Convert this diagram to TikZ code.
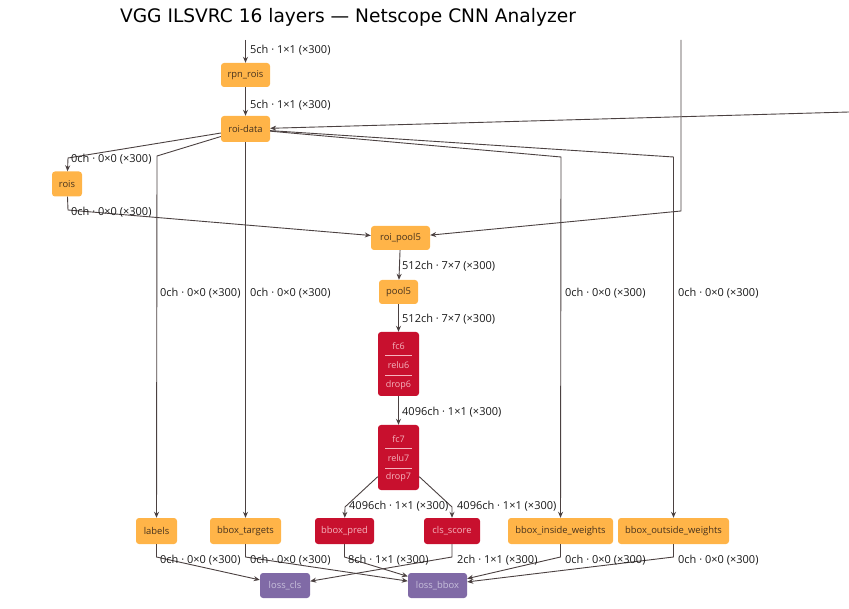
\documentclass[tikz,border=0pt]{standalone}
\usepackage{fontspec}
\setmainfont{Open Sans}
\newfontfamily\titlefont{DejaVu Sans}
\usetikzlibrary{arrows.meta}
\definecolor{orbox}{RGB}{255,180,72}
\definecolor{ortext}{RGB}{70,50,30}
\definecolor{rdbox}{RGB}{200,16,46}
\definecolor{rdtext}{RGB}{245,180,190}
\definecolor{pubox}{RGB}{128,106,166}
\definecolor{putext}{RGB}{200,192,220}
\definecolor{edgecol}{RGB}{75,65,65}
\tikzset{
  base/.style={rounded corners=3pt, inner sep=0pt, font=\fontsize{9.4}{11}\selectfont},
  obox/.style={base, fill=orbox, text=ortext},
  rbox/.style={base, fill=rdbox, text=rdtext},
  pbox/.style={base, fill=pubox, text=putext},
  intext/.style={inner sep=0pt, text=rdtext, font=\fontsize{9}{10}\selectfont},
  sep/.style={draw=rdtext, line width=0.6pt},
  arr/.style={draw=edgecol, line width=0.9pt, -{Stealth[length=6pt,width=5pt]}},
  lab/.style={anchor=west, inner sep=0pt, text=black!90, font=\fontsize{11}{12}\selectfont},
}
\begin{document}
\begin{tikzpicture}[x=1pt,y=-1pt]
\useasboundingbox (0,0) rectangle (849,609);
\node[anchor=center, inner sep=0pt, font=\titlefont\fontsize{18.6}{21}\selectfont] (title) at (348,17) {VGG ILSVRC 16 layers — Netscope CNN Analyzer};

% nodes
\node[obox, minimum width=49, minimum height=24] (rpnrois) at (245.5,75) {rpn\_rois};
\node[obox, minimum width=49, minimum height=26] (roidata) at (245.5,129) {roi-data};
\node[obox, minimum width=30, minimum height=25] (rois) at (67,184) {rois};
\node[obox, minimum width=59, minimum height=24] (roipool5) at (400.5,238) {roi\_pool5};
\node[obox, minimum width=39, minimum height=24] (pool5) at (398.5,292) {pool5};
\node[rbox, minimum width=41, minimum height=64] (fc6) at (398.5,364) {};
\node[intext] (fc6a) at (398.5,346) {fc6};
\node[intext] (fc6b) at (398.5,365) {relu6};
\node[intext] (fc6c) at (398.5,385) {drop6};
\draw[sep] (385,355.5) -- (412,355.5);
\draw[sep] (385,375) -- (412,375);
\node[rbox, minimum width=41, minimum height=65] (fc7) at (398.5,457.5) {};
\node[intext] (fc7a) at (398.5,439) {fc7};
\node[intext] (fc7b) at (398.5,458) {relu7};
\node[intext] (fc7c) at (398.5,477.5) {drop7};
\draw[sep] (385,448.5) -- (412,448.5);
\draw[sep] (385,468) -- (412,468);
\node[obox, minimum width=41, minimum height=26] (labels) at (156.5,531) {labels};
\node[obox, minimum width=71, minimum height=26] (bboxtargets) at (245.5,531) {bbox\_targets};
\node[rbox, minimum width=59, minimum height=26] (bboxpred) at (344.5,531) {bbox\_pred};
\node[rbox, minimum width=56, minimum height=26] (clsscore) at (452,531) {cls\_score};
\node[obox, minimum width=105, minimum height=26] (biw) at (560.5,531) {bbox\_inside\_weights};
\node[obox, minimum width=111, minimum height=26] (bow) at (673.5,531) {bbox\_outside\_weights};
\node[pbox, minimum width=50, minimum height=25] (losscls) at (285,585.5) {loss\_cls};
\node[pbox, minimum width=59, minimum height=25] (lossbbox) at (437.5,585.5) {loss\_bbox};

% free ends and bends
\coordinate (topin) at (245.5,40);
\coordinate (rin) at (849,112);
\coordinate (vin) at (681,40);
\coordinate (vb) at (681,211);
\coordinate (b1) at (68,158);
\coordinate (b2) at (68,210);
\coordinate (b3) at (157,156);
\coordinate (b4) at (561,157);
\coordinate (b5) at (673.5,157);
\coordinate (b6) at (345,507);
\coordinate (b7) at (452,507);
\coordinate (c1) at (156.5,557);
\coordinate (c2) at (245.5,557);
\coordinate (c3) at (344.5,557);
\coordinate (c4) at (452,557);
\coordinate (c5) at (560.5,557);
\coordinate (c6) at (673.5,557);

% edges
\draw[arr] (topin) -- (rpnrois);
\draw[arr] (rpnrois) -- (roidata);
\draw[arr] (rin) -- (roidata);
\draw[arr] (vin) -- (vb) -- (roipool5);
\draw[arr] (roidata) -- (b1) -- (rois);
\draw[arr] (rois) -- (b2) -- (roipool5);
\draw[arr] (roidata) -- (b3) -- (labels);
\draw[arr] (roidata) -- (bboxtargets);
\draw[arr] (roidata) -- (b4) -- (biw);
\draw[arr] (roidata) -- (b5) -- (bow);
\draw[arr] (roipool5) -- (pool5);
\draw[arr] (pool5) -- (fc6);
\draw[arr] (fc6) -- (fc7);
\draw[arr] (fc7) -- (b6) -- (bboxpred);
\draw[arr] (fc7) -- (b7) -- (clsscore);
\draw[arr] (labels) -- (c1) -- (losscls);
\draw[arr] (bboxtargets) -- (c2) -- (lossbbox);
\draw[arr] (bboxpred) -- (c3) -- (lossbbox);
\draw[arr] (clsscore) -- (c4) -- (losscls);
\draw[arr] (biw) -- (c5) -- (lossbbox);
\draw[arr] (bow) -- (c6) -- (lossbbox);

% edge labels
\node[lab] (l1) at (250,50) {5ch · 1×1 (×300)};
\node[lab] (l2) at (250,105) {5ch · 1×1 (×300)};
\node[lab] (l3) at (71,159) {0ch · 0×0 (×300)};
\node[lab] (l4) at (71,212) {0ch · 0×0 (×300)};
\node[lab] (l5) at (160,293) {0ch · 0×0 (×300)};
\node[lab] (l6) at (250,293) {0ch · 0×0 (×300)};
\node[lab] (l7) at (565,293) {0ch · 0×0 (×300)};
\node[lab] (l8) at (678,293) {0ch · 0×0 (×300)};
\node[lab] (l9) at (402,266) {512ch · 7×7 (×300)};
\node[lab] (l10) at (402,319) {512ch · 7×7 (×300)};
\node[lab] (l11) at (402,412) {4096ch · 1×1 (×300)};
\node[lab] (l12) at (349,506) {4096ch · 1×1 (×300)};
\node[lab] (l13) at (457,506) {4096ch · 1×1 (×300)};
\node[lab] (l14) at (160,560) {0ch · 0×0 (×300)};
\node[lab] (l15) at (250,560) {0ch · 0×0 (×300)};
\node[lab] (l16) at (348,560) {8ch · 1×1 (×300)};
\node[lab] (l17) at (457,560) {2ch · 1×1 (×300)};
\node[lab] (l18) at (565,560) {0ch · 0×0 (×300)};
\node[lab] (l19) at (678,560) {0ch · 0×0 (×300)};
\end{tikzpicture}
\end{document}
